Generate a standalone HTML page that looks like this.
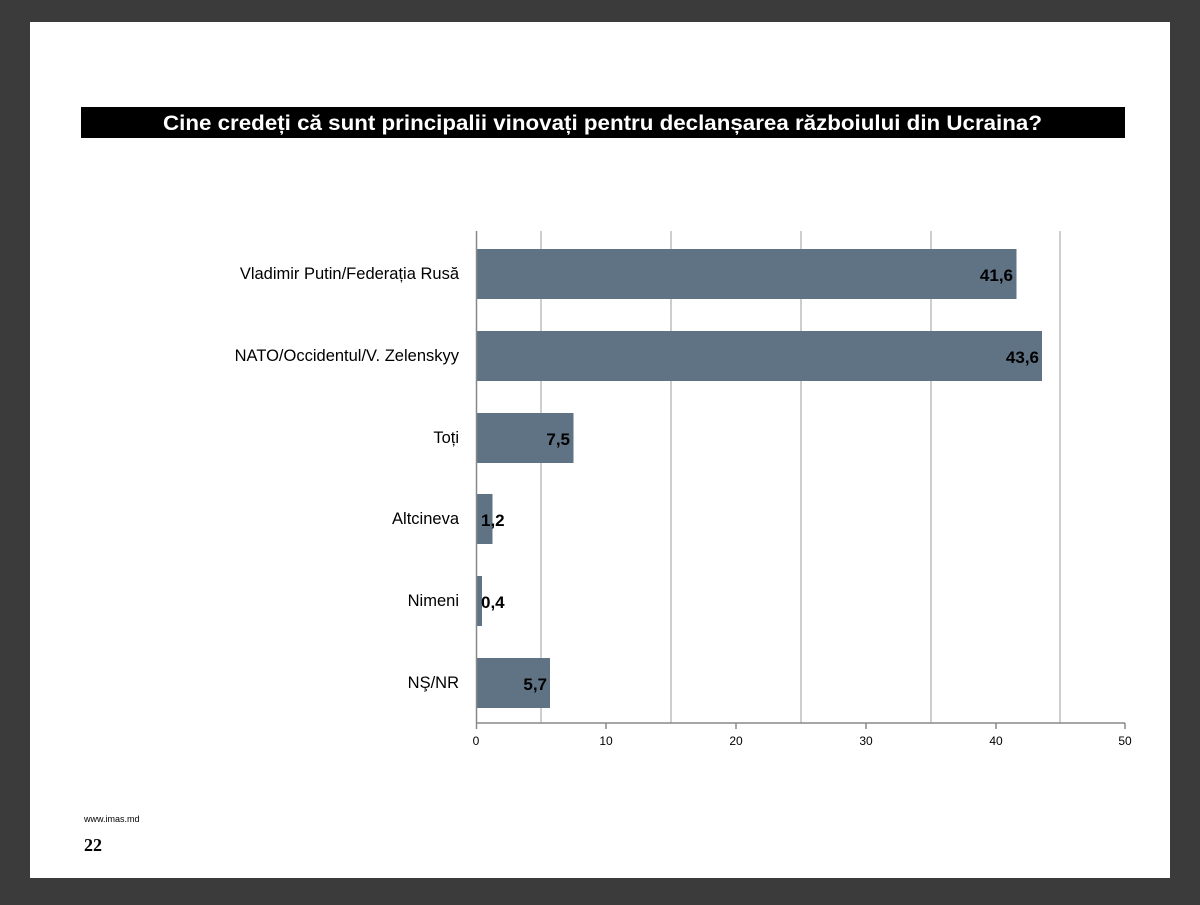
<!DOCTYPE html>
<html><head><meta charset="utf-8"><style>
body{margin:0;width:1200px;height:900px;background:#3b3b3b;overflow:hidden;font-family:"Liberation Sans",sans-serif}
</style></head><body>
<svg width="1200" height="900" xmlns="http://www.w3.org/2000/svg" font-family="Liberation Sans, sans-serif">
<rect x="0" y="0" width="1200" height="900" fill="#3b3b3b"/>
<rect x="30" y="22" width="1140" height="856" fill="#fff"/>
<rect x="81" y="107" width="1044" height="31" fill="#000"/>
<text x="163" y="130" fill="#fff" font-weight="bold" font-size="21" textLength="879" lengthAdjust="spacingAndGlyphs">Cine credeți că sunt principalii vinovați pentru declanșarea războiului din Ucraina?</text>
<g stroke="#bdbdbd" stroke-width="1.5">
<line x1="541" y1="231" x2="541" y2="723"/><line x1="671" y1="231" x2="671" y2="723"/>
<line x1="801" y1="231" x2="801" y2="723"/><line x1="931" y1="231" x2="931" y2="723"/>
<line x1="1060" y1="231" x2="1060" y2="723"/>
</g>
<g fill="#5f7385">
<rect x="477" y="249" width="539.5" height="50"/>
<rect x="477" y="331" width="565" height="50"/>
<rect x="477" y="413" width="96.5" height="50"/>
<rect x="477" y="494" width="15.5" height="50"/>
<rect x="477" y="576" width="5" height="50"/>
<rect x="477" y="658" width="73" height="50"/>
</g>
<g stroke="#888" stroke-width="1.5">
<line x1="476.5" y1="231" x2="476.5" y2="723"/>
<line x1="476" y1="723" x2="1125" y2="723"/>
<line x1="476.5" y1="723" x2="476.5" y2="729"/><line x1="606" y1="723" x2="606" y2="729"/>
<line x1="736" y1="723" x2="736" y2="729"/><line x1="866" y1="723" x2="866" y2="729"/>
<line x1="996" y1="723" x2="996" y2="729"/><line x1="1125" y1="723" x2="1125" y2="729"/>
</g>
<g font-size="12" text-anchor="middle" fill="#000">
<text x="476" y="745">0</text><text x="606" y="745">10</text><text x="736" y="745">20</text>
<text x="866" y="745">30</text><text x="996" y="745">40</text><text x="1125" y="745">50</text>
</g>
<g font-size="16.5" text-anchor="end" fill="#000">
<text x="459" y="279">Vladimir Putin/Federația Rusă</text>
<text x="459" y="361">NATO/Occidentul/V. Zelenskyy</text>
<text x="459" y="443">Toți</text>
<text x="459" y="524">Altcineva</text>
<text x="459" y="606">Nimeni</text>
<text x="459" y="688">NŞ/NR</text>
</g>
<g font-size="17" font-weight="bold" fill="#000">
<text x="1013" y="281" text-anchor="end">41,6</text>
<text x="1039" y="363" text-anchor="end">43,6</text>
<text x="570" y="445" text-anchor="end">7,5</text>
<text x="481" y="526">1,2</text>
<text x="481" y="608">0,4</text>
<text x="547" y="690" text-anchor="end">5,7</text>
</g>
<text x="84" y="822" font-size="9" fill="#000">www.imas.md</text>
<text x="84" y="851" font-size="18" font-weight="bold" font-family="Liberation Serif, serif" fill="#000">22</text>
</svg>
</body></html>
